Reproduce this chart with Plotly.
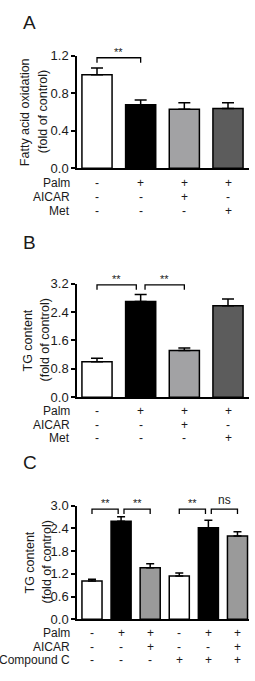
import plotly.graph_objects as go

W, H = 255, 681
FONT = "Liberation Sans, Arial, sans-serif"

# ---------------- data ----------------
a_values = [1.00, 0.68, 0.63, 0.64]
a_errors = [0.07, 0.05, 0.07, 0.06]
a_rows = ["Palm", "AICAR", "Met"]
a_signs = [["-", "+", "+", "+"], ["-", "-", "+", "-"], ["-", "-", "-", "+"]]
a_comparisons = [(0, 1, 1.18, "**")]
a_ticks = [0.0, 0.4, 0.8, 1.2]

b_values = [1.00, 2.70, 1.32, 2.58]
b_errors = [0.10, 0.20, 0.07, 0.19]
b_rows = ["Palm", "AICAR", "Met"]
b_signs = [["-", "+", "+", "+"], ["-", "-", "+", "-"], ["-", "-", "-", "+"]]
b_comparisons = [(0, 1, 3.17, "**"), (1, 2, 3.17, "**")]
b_ticks = [0.0, 0.8, 1.6, 2.4, 3.2]

c_values = [1.01, 2.59, 1.36, 1.14, 2.42, 2.20]
c_errors = [0.05, 0.12, 0.11, 0.08, 0.20, 0.11]
c_rows = ["Palm", "AICAR", "Compound C"]
c_signs = [["-", "+", "+", "-", "+", "+"],
           ["-", "-", "+", "-", "-", "+"],
           ["-", "-", "-", "+", "+", "+"]]
c_comparisons = [(0, 1, 2.91, "**"), (1, 2, 2.91, "**"),
                 (3, 4, 2.91, "**"), (4, 5, 2.91, "ns")]
c_ticks = [0.0, 0.6, 1.2, 1.8, 2.4, 3.0]

a_colors = ["#ffffff", "#000000", "#a2a2a4", "#5c5c5c"]
c_colors = ["#ffffff", "#000000", "#9a9a9a", "#ffffff", "#000000", "#9a9a9a"]

# ---------------- layout helpers ----------------
def py(px):
    return 1 - px / H

def px_x(px):
    return px / W

panels = [
    dict(letter="A", values=a_values, errors=a_errors, rows=a_rows, signs=a_signs,
         comps=a_comparisons, ticks=a_ticks, colors=a_colors, top=50, bot=165,
         yr=[0, 1.2], xr=[-0.458, 3.481], width=0.69, cap=6,
         title=["Fatty acid oxidation", "(fold of control)"], tx=[25, 43],
         letter_y=16, row_y=[180, 194, 209]),
    dict(letter="B", values=b_values, errors=b_errors, rows=b_rows, signs=b_signs,
         comps=b_comparisons, ticks=b_ticks, colors=a_colors, top=283, bot=399,
         yr=[0, 3.2], xr=[-0.458, 3.481], width=0.69, cap=6,
         title=["TG content", "(fold of control)"], tx=[28, 45],
         letter_y=241, row_y=[413, 427, 441]),
    dict(letter="C", values=c_values, errors=c_errors, rows=c_rows, signs=c_signs,
         comps=c_comparisons, ticks=c_ticks, colors=c_colors, top=510, bot=626,
         yr=[0, 3.0], xr=[-0.515, 5.396], width=0.69, cap=4,
         title=["TG content", "(fold of control)"], tx=[30, 47],
         letter_y=466, row_y=[640, 654, 668]),
]

fig = go.Figure()
annotations = []
shapes = []
X0, X1 = 77, 249
layout = dict(
    width=W, height=H, margin=dict(l=0, r=0, t=0, b=0),
    paper_bgcolor="white", plot_bgcolor="white", showlegend=False,
    font=dict(family=FONT, color="#1a1a1a"),
)

for k, p in enumerate(panels):
    n = k + 1
    xa = "x" if n == 1 else f"x{n}"
    ya = "y" if n == 1 else f"y{n}"
    xs = list(range(len(p["values"])))
    fig.add_trace(go.Bar(
        x=xs, y=p["values"], xaxis=xa, yaxis=ya, width=p["width"],
        marker=dict(color=p["colors"], line=dict(color="black", width=1.5)),
        error_y=dict(type="data", array=p["errors"], arrayminus=[0] * len(xs),
                     symmetric=False, color="black", thickness=1.5, width=p["cap"]),
        cliponaxis=False,
    ))
    layout[f"xaxis{'' if n == 1 else n}"] = dict(
        domain=[px_x(X0), px_x(X1)], range=p["xr"], anchor=ya,
        showgrid=False, zeroline=False, showticklabels=False, ticks="",
        showline=True, linecolor="black", linewidth=1.5, fixedrange=True,
    )
    layout[f"yaxis{'' if n == 1 else n}"] = dict(
        domain=[py(p["bot"]), py(p["top"])], range=p["yr"], anchor=xa,
        tickvals=p["ticks"], ticktext=[f"{t:.1f}" for t in p["ticks"]],
        ticks="outside", ticklen=4, tickwidth=1.5, tickcolor="black",
        showgrid=False, zeroline=False, showline=True, linecolor="black",
        linewidth=1.5, tickfont=dict(size=13, family=FONT, color="#1a1a1a"),
        fixedrange=True,
    )
    # panel letter
    annotations.append(dict(text=p["letter"], xref="paper", yref="paper",
                            x=px_x(21), y=py(p["letter_y"]), xanchor="left",
                            yanchor="middle", showarrow=False,
                            font=dict(size=19, family=FONT, color="#1a1a1a")))
    # y title lines
    ymid = py((p["top"] + p["bot"]) / 2)
    for line, tx in zip(p["title"], p["tx"]):
        annotations.append(dict(text=line, xref="paper", yref="paper",
                                x=px_x(tx), y=ymid, textangle=-90,
                                xanchor="center", yanchor="middle", showarrow=False,
                                font=dict(size=12.5, family=FONT, color="#1a1a1a")))
    # treatment rows
    for r, (lab, ry) in enumerate(zip(p["rows"], p["row_y"])):
        annotations.append(dict(text=lab, xref="paper", yref="paper",
                                x=px_x(72), y=py(ry), xanchor="right",
                                yanchor="middle", showarrow=False,
                                font=dict(size=12, family=FONT, color="#1a1a1a")))
        for i, s in enumerate(p["signs"][r]):
            annotations.append(dict(text=s, xref=xa, yref="paper", x=i, y=py(ry),
                                    xanchor="center", yanchor="middle",
                                    showarrow=False,
                                    font=dict(size=12, family=FONT, color="#1a1a1a")))
    # significance brackets
    plot_h = p["bot"] - p["top"]
    drop = 5 / plot_h * (p["yr"][1] - p["yr"][0])
    ends = [c[0] for c in p["comps"]] + [c[1] for c in p["comps"]]
    for (i, j, h, lab) in p["comps"]:
        xi = i + (0.1 if ends.count(i) > 1 else 0)
        xj = j - (0.1 if ends.count(j) > 1 else 0)
        shapes.append(dict(type="path", xref=xa, yref=ya,
                           path=f"M {xi},{h - drop} L {xi},{h} L {xj},{h} L {xj},{h - drop}",
                           line=dict(color="black", width=1.3)))
        annotations.append(dict(text=lab, xref=xa, yref=ya, x=(xi + xj) / 2, y=h,
                                xanchor="center", yanchor="bottom", showarrow=False,
                                yshift=-2 if lab == "**" else 0,
                                font=dict(size=11 if lab == "**" else 12,
                                          family=FONT, color="#1a1a1a")))

layout["annotations"] = annotations
layout["shapes"] = shapes
fig.update_layout(**layout)
fig.write_html("out.html")
